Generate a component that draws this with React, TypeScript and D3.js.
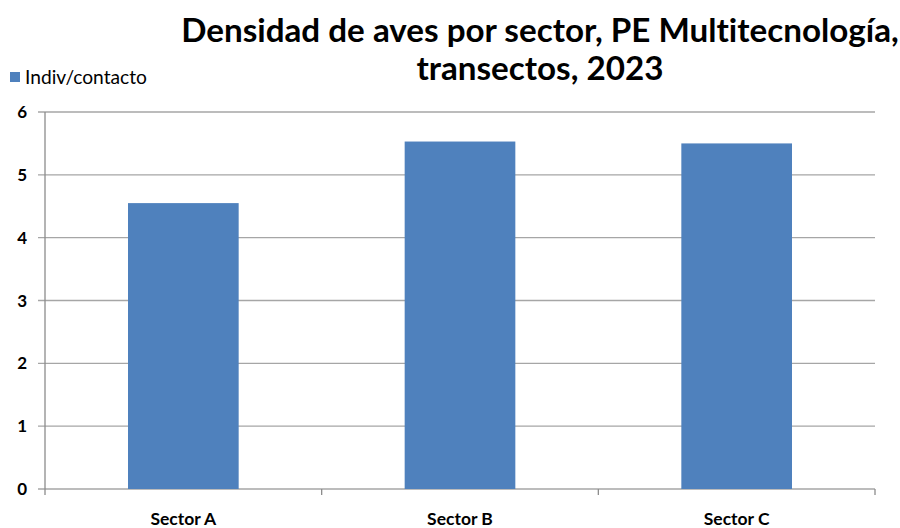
import React from "react";
import * as d3 from "d3";

const categories = ["Sector A", "Sector B", "Sector C"];
const values = [4.55, 5.53, 5.5];
const yTicks = [0, 1, 2, 3, 4, 5, 6];
const seriesName = "Indiv/contacto";
const titleLines = ["Densidad de aves por sector, PE Multitecnología,", "transectos, 2023"];

const W = 900;
const H = 528;
const M = { left: 45, right: 875, top: 112, bottom: 489 };
const FONT = "Lato, 'Open Sans', sans-serif";
const BAR = "#4f81bd";
const noLig = { fontVariantLigatures: "none" as const };

export default function App() {
  const x = d3.scaleBand<string>().domain(categories).range([M.left, M.right]).padding(0);
  const y = d3.scaleLinear().domain([0, 6]).range([M.bottom, M.top]);
  const bw = x.bandwidth() * 0.4;
  const boundaries = [...categories.map((c) => x(c) as number), M.right];
  return (
    <div style={{ position: "fixed", left: 0, top: 0 }}>
      <svg width={W} height={H} style={{ display: "block", background: "#fff" }}>
        {titleLines.map((t, i) => (
          <text key={i} x={540} y={42 + i * 38} textAnchor="middle" fontFamily={FONT} fontWeight={700} fontSize={33.2} fill="#000" style={noLig}>
            {t}
          </text>
        ))}
        <rect x={10} y={72} width={10} height={10} fill={BAR} />
        <text x={25} y={84} fontFamily={FONT} fontSize={19.2} fill="#000" style={noLig}>{seriesName}</text>
        {yTicks.map((t) => (
          <g key={t}>
            <line x1={M.left - 7} x2={M.right} y1={y(t)} y2={y(t)} stroke="#a6a6a6" strokeWidth={1.3} />
            <text x={27} y={y(t) + 6} textAnchor="end" fontFamily={FONT} fontWeight={700} fontSize={17} fill="#000">{t}</text>
          </g>
        ))}
        <line x1={M.left} x2={M.left} y1={M.top} y2={M.bottom} stroke="#8c8c8c" strokeWidth={1.3} />
        {boundaries.map((b, i) => (
          <line key={i} x1={b} x2={b} y1={M.bottom} y2={M.bottom + 6} stroke="#8c8c8c" strokeWidth={1.3} />
        ))}
        {categories.map((c, i) => (
          <rect key={c} x={(x(c) as number) + (x.bandwidth() - bw) / 2} y={y(values[i])} width={bw} height={y(0) - y(values[i])} fill={BAR} />
        ))}
        {categories.map((c) => (
          <text key={c} x={(x(c) as number) + x.bandwidth() / 2} y={525} textAnchor="middle" fontFamily={FONT} fontWeight={700} fontSize={17.5} fill="#000">{c}</text>
        ))}
      </svg>
    </div>
  );
}
